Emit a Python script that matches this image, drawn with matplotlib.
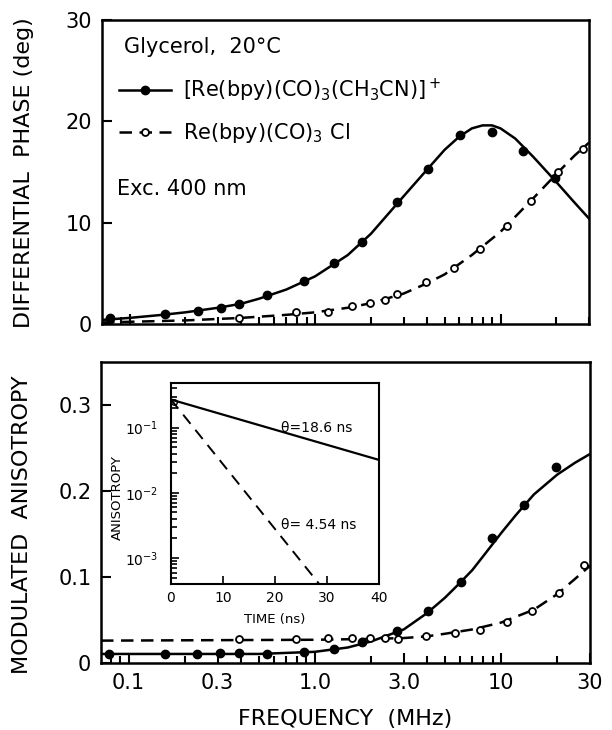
import numpy as np
import matplotlib.pyplot as plt
from matplotlib.lines import Line2D
from matplotlib.ticker import FixedLocator, NullFormatter, LogLocator

plt.rcParams['font.family'] = 'DejaVu Sans'
plt.rcParams['mathtext.fontset'] = 'dejavusans'

# measured points, [Re(bpy)(CO)3(CH3CN)]+ (filled)
freqFilled = [0.078, 0.156, 0.234, 0.31, 0.39, 0.55, 0.87, 1.27, 1.8, 2.75, 4.05, 6.07, 8.95, 13.2, 19.6]
phaseFilled = [0.56, 0.99, 1.31, 1.55, 1.97, 2.86, 4.24, 5.99, 8.06, 12.0, 15.3, 18.66, 18.98, 17.1, 14.4]
anisoFilled = [0.011, 0.011, 0.011, 0.012, 0.012, 0.011, 0.013, 0.016, 0.024, 0.037, 0.061, 0.094, 0.145, 0.184, 0.228]

# measured points, Re(bpy)(CO)3Cl (open)
freqOpen = [0.39, 0.79, 1.18, 1.58, 1.98, 2.39, 2.78, 3.95, 5.64, 7.7, 10.8, 14.6, 20.4, 27.7]
phaseOpen = [0.56, 1.22, 1.15, 1.81, 2.04, 2.37, 2.96, 4.18, 5.5, 7.37, 9.7, 12.1, 15.0, 17.3]
anisoOpen = [0.0275, 0.028, 0.0287, 0.0295, 0.0295, 0.0295, 0.028, 0.0318, 0.0345, 0.0384, 0.048, 0.060, 0.081, 0.114]

# fitted curves
fitPhaseSolidF = [0.071, 0.1, 0.15, 0.2, 0.3, 0.4, 0.5, 0.7, 1.0, 1.5, 2.0, 3.0, 4.0, 5.0, 6.0, 7.0, 8.0, 9.0, 10, 12, 15, 20, 25, 30]
fitPhaseSolid = [0.4, 0.6, 0.9, 1.15, 1.6, 2.0, 2.5, 3.4, 4.7, 6.8, 8.9, 12.6, 15.2, 17.2, 18.5, 19.3, 19.6, 19.6, 19.3, 18.3, 16.5, 14.0, 12.0, 10.4]
fitPhaseDashF = [0.071, 0.2, 0.4, 0.7, 1.0, 1.5, 2.0, 3.0, 4.0, 5.0, 7.0, 10, 15, 20, 25, 30]
fitPhaseDash = [0.15, 0.35, 0.6, 0.9, 1.15, 1.6, 2.05, 3.0, 4.0, 4.9, 6.8, 9.1, 12.4, 14.8, 16.6, 17.9]

fitAnisoSolidF = [0.071, 0.5, 1.0, 1.5, 2.0, 3.0, 4.0, 5.0, 6.0, 7.0, 8.0, 10, 12, 15, 20, 25, 30]
fitAnisoSolid = [0.0105, 0.0105, 0.013, 0.018, 0.025, 0.039, 0.058, 0.076, 0.093, 0.108, 0.124, 0.151, 0.172, 0.196, 0.219, 0.233, 0.243]
fitAnisoDashF = [0.071, 1.0, 2.0, 3.0, 4.0, 5.0, 7.0, 10, 15, 20, 25, 30]
fitAnisoDash = [0.026, 0.027, 0.028, 0.029, 0.031, 0.034, 0.039, 0.047, 0.062, 0.080, 0.098, 0.113]

# inset: anisotropy decay
timeSolid = [0, 40]
rSolid = [0.27, 0.032]
timeDash = [0, 28.5]
rDash = [0.27, 0.0004]

lw = 1.8
dash = (0, (5, 3))

fig = plt.figure(figsize=(6.12, 7.3), dpi=100)

# ---- top panel: differential phase
axTop = fig.add_axes([0.1667, 0.5562, 0.7958, 0.4164])
axTop.plot(fitPhaseSolidF, fitPhaseSolid, c='k', lw=lw)
axTop.plot(fitPhaseDashF, fitPhaseDash, c='k', lw=lw, ls=dash)
axTop.plot(freqFilled, phaseFilled, 'o', c='k', ms=6)
axTop.plot(freqOpen, phaseOpen, 'o', mfc='w', mec='k', mew=1.3, ms=5)
axTop.set_xscale('log')
axTop.set_xlim(0.071, 30)
axTop.set_ylim(0, 30)
axTop.set_yticks([0, 10, 20, 30])
axTop.xaxis.set_major_formatter(NullFormatter())
axTop.xaxis.set_minor_formatter(NullFormatter())
axTop.set_ylabel('DIFFERENTIAL  PHASE (deg)', fontsize=16)
axTop.yaxis.set_label_coords(-0.139, 0.497)

axTop.text(0.045, 0.91, 'Glycerol,  20°C', transform=axTop.transAxes, fontsize=15, va='center')
axTop.text(0.03, 0.445, 'Exc. 400 nm', transform=axTop.transAxes, fontsize=15, va='center')

handles = [Line2D([], [], c='k', lw=lw, marker='o', ms=6),
           Line2D([], [], c='k', lw=lw, ls=dash, marker='o', mfc='w', mec='k', mew=1.3, ms=5)]
labels = ['[Re(bpy)(CO)$_3$(CH$_3$CN)]$^+$', 'Re(bpy)(CO)$_3$ Cl']
axTop.legend(handles, labels, loc='upper left', bbox_to_anchor=(0.034, 0.814), frameon=False,
             fontsize=15, handlelength=2.5, handletextpad=0.6, labelspacing=0.84,
             borderpad=0, borderaxespad=0, numpoints=1)

# ---- bottom panel: modulated anisotropy
axBot = fig.add_axes([0.165, 0.0918, 0.799, 0.4123])
axBot.plot(fitAnisoSolidF, fitAnisoSolid, c='k', lw=lw)
axBot.plot(fitAnisoDashF, fitAnisoDash, c='k', lw=lw, ls=dash)
axBot.plot(freqFilled, anisoFilled, 'o', c='k', ms=6)
axBot.plot(freqOpen, anisoOpen, 'o', mfc='w', mec='k', mew=1.3, ms=5)
axBot.set_xscale('log')
axBot.set_xlim(0.071, 30)
axBot.set_ylim(0, 0.35)
axBot.set_yticks([0, 0.1, 0.2, 0.3])
axBot.set_yticklabels(['0', '0.1', '0.2', '0.3'])
xLabelTicks = [0.1, 0.3, 1.0, 3.0, 10, 30]
axBot.xaxis.set_major_locator(FixedLocator(xLabelTicks))
axBot.set_xticklabels(['0.1', '0.3', '1.0', '3.0', '10', '30'])
axBot.xaxis.set_minor_formatter(NullFormatter())
axBot.set_xlabel('FREQUENCY  (MHz)', fontsize=16, labelpad=12)
axBot.set_ylabel('MODULATED  ANISOTROPY', fontsize=16)
axBot.yaxis.set_label_coords(-0.142, 0.46)

for ax in (axTop, axBot):
    ax.xaxis.set_minor_locator(LogLocator(base=10, subs=np.arange(2, 10), numticks=20))
    ax.tick_params(which='both', direction='in', top=False, right=False, labelsize=15, width=1.5)
    ax.tick_params(which='major', length=7, pad=7)
    ax.tick_params(which='minor', length=5)
    for s in ax.spines.values():
        s.set_linewidth(lw)

# ---- inset
axIn = fig.add_axes([0.2794, 0.2, 0.3399, 0.2758])
axIn.plot(timeSolid, rSolid, c='k', lw=1.6)
axIn.plot(timeDash, rDash, c='k', lw=1.4, ls=(0, (6, 4)))
axIn.plot([0.5], [0.25], 'o', mfc='none', mec='k', mew=1.0, ms=4)
axIn.set_yscale('log')
axIn.set_xlim(0, 40)
axIn.set_ylim(4e-4, 0.49)
axIn.set_xticks([0, 10, 20, 30, 40])
axIn.yaxis.set_major_locator(LogLocator(base=10, numticks=10))
axIn.yaxis.set_minor_locator(LogLocator(base=10, subs=np.arange(2, 10), numticks=10))
axIn.tick_params(which='both', direction='in', top=False, right=False, labelsize=10, width=1.2)
axIn.tick_params(which='major', length=6, pad=5)
axIn.tick_params(axis='y', which='major', pad=9)
axIn.tick_params(which='minor', length=4)
axIn.set_xlabel('TIME (ns)', fontsize=9.5, labelpad=6)
axIn.set_ylabel('ANISOTROPY', fontsize=9.5)
axIn.yaxis.set_label_coords(-0.226, 0.43)
for s in axIn.spines.values():
    s.set_linewidth(1.5)
axIn.text(21.2, 0.098, 'θ=18.6 ns', fontsize=10, va='center')
axIn.text(21.2, 0.0032, 'θ= 4.54 ns', fontsize=10, va='center')

fig.savefig('out.png', dpi=100)
